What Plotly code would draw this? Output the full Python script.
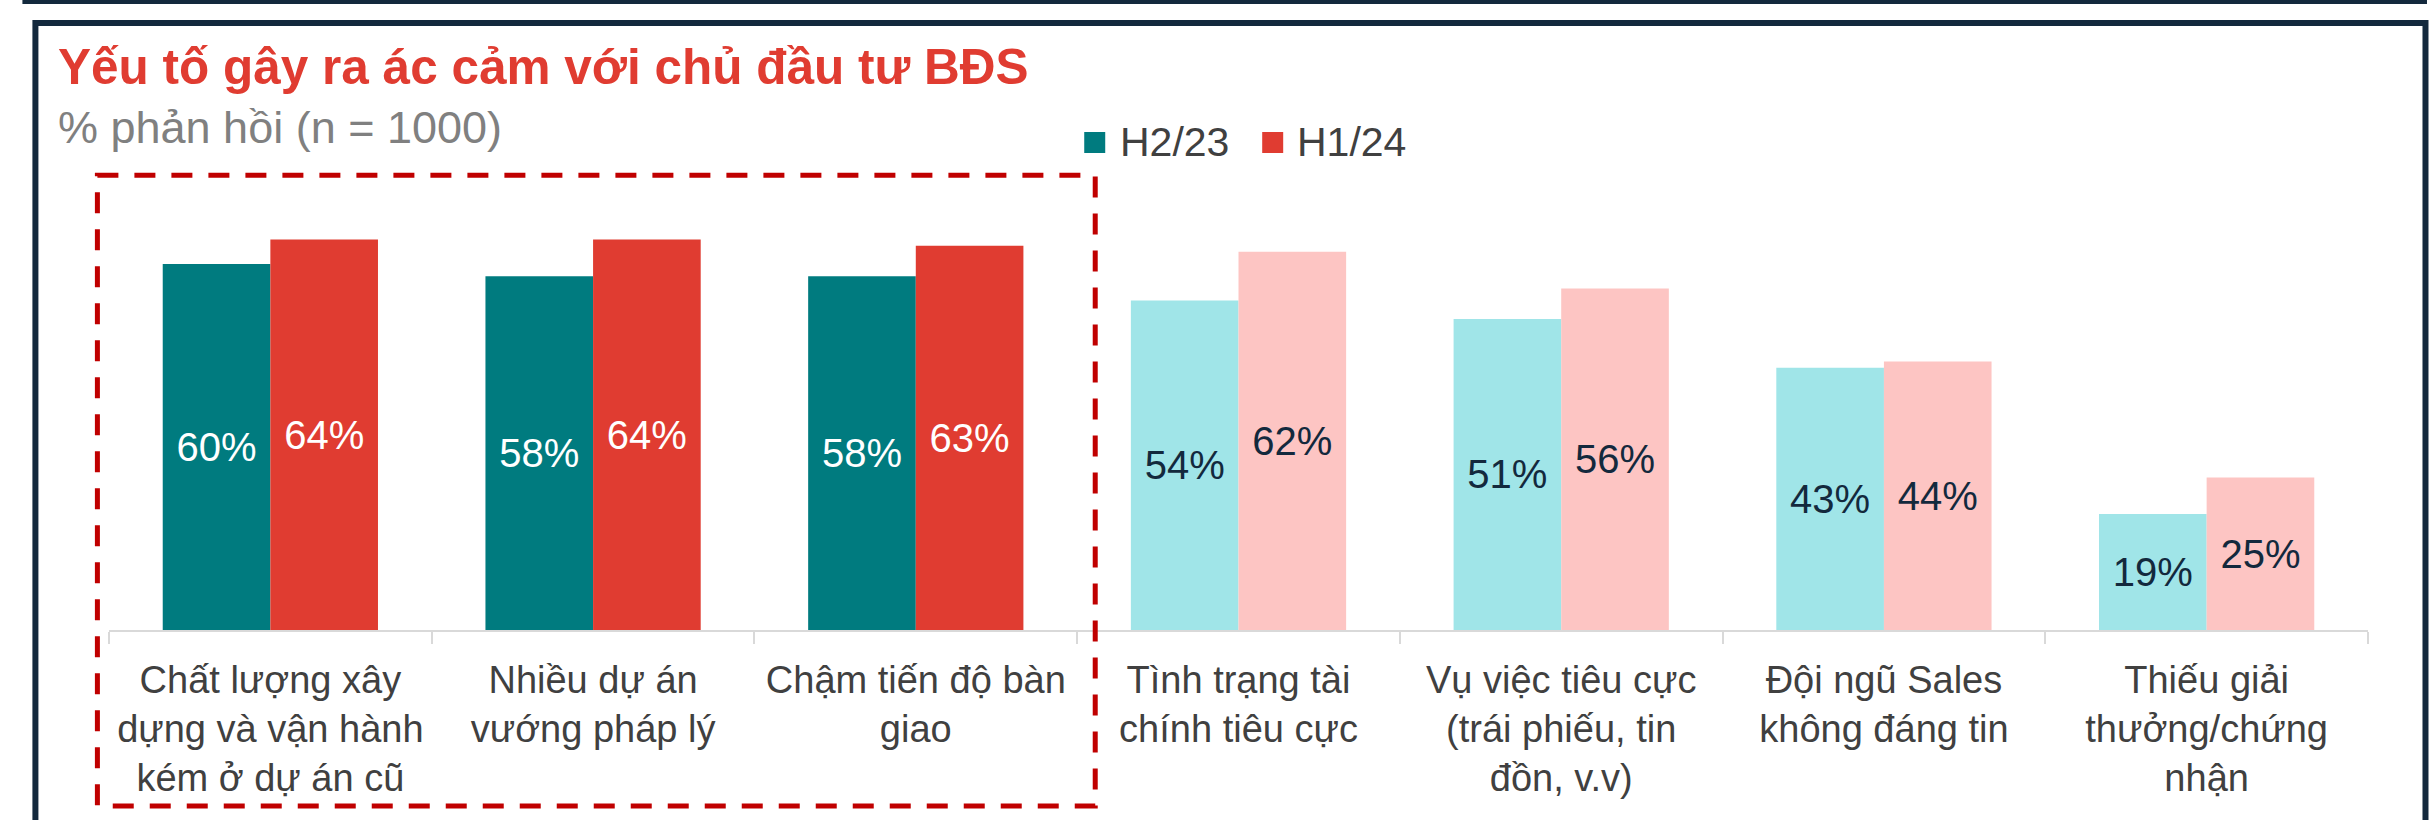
import plotly.graph_objects as go

categories = [
    "Chất lượng xây<br>dựng và vận hành<br>kém ở dự án cũ",
    "Nhiều dự án<br>vướng pháp lý",
    "Chậm tiến độ bàn<br>giao",
    "Tình trạng tài<br>chính tiêu cực",
    "Vụ việc tiêu cực<br>(trái phiếu, tin<br>đồn, v.v)",
    "Đội ngũ Sales<br>không đáng tin",
    "Thiếu giải<br>thưởng/chứng<br>nhận",
]
series_names = ["H2/23", "H1/24"]
h2_23 = [60, 58, 58, 54, 51, 43, 19]
h1_24 = [64, 64, 63, 62, 56, 44, 25]
highlighted = [True, True, True, False, False, False, False]

title_text = "Yếu tố gây ra ác cảm với chủ đầu tư BĐS"
subtitle_text = "% phản hồi (n = 1000)"

TEAL, RED = "#007B7F", "#E03C31"
LTEAL, PINK = "#A0E5E8", "#FDC5C3"
NAVY = "#13293D"
FONT = "Arial, Liberation Sans, sans-serif"

W, H = 2429, 820
ML, MR, MT, MB = 108.6, 61, 203, 190
PW, PH = W - ML - MR, H - MT - MB


def px(x):
    return (x - ML) / PW


def py(y):
    return (H - MB - y) / PH


fig = go.Figure()
for vals, name, dark, light in [(h2_23, series_names[0], TEAL, LTEAL), (h1_24, series_names[1], RED, PINK)]:
    fig.add_trace(go.Bar(
        x=categories, y=vals, name=name,
        marker=dict(color=[dark if h else light for h in highlighted], line=dict(width=0)),
        text=[f"{v}%" for v in vals],
        textposition="inside", insidetextanchor="middle", textangle=0,
        insidetextfont=dict(family=FONT, size=40, color=["#FFFFFF" if h else NAVY for h in highlighted]),
        showlegend=False,
    ))

shapes = []
# top dark bar
shapes.append(dict(type="rect", xref="paper", yref="paper", x0=px(22), x1=px(2427), y0=py(0), y1=py(4),
                   fillcolor=NAVY, line=dict(width=0)))
# frame box (open at bottom)
shapes.append(dict(type="path", xref="paper", yref="paper",
                   path=f"M {px(35)},{py(830)} L {px(35)},{py(23)} L {px(2425.5)},{py(23)} L {px(2425.5)},{py(830)}",
                   line=dict(color=NAVY, width=6)))
# dashed highlight box
shapes.append(dict(type="rect", xref="paper", yref="paper", x0=px(97), x1=px(1095), y0=py(175.3), y1=py(806),
                   line=dict(color="#C00000", width=5, dash="21px,16px")))
# legend squares
legend_items = [(1084, TEAL, 1118, series_names[0]), (1262, RED, 1295, series_names[1])]
annotations = []
for sx, col, tx, label in legend_items:
    shapes.append(dict(type="rect", xref="paper", yref="paper", x0=px(sx), x1=px(sx + 21), y0=py(132), y1=py(153),
                       fillcolor=col, line=dict(width=0)))
    annotations.append(dict(text=label, xref="paper", yref="paper", x=px(tx), y=py(142.5), xanchor="left",
                            yanchor="middle", showarrow=False, font=dict(family=FONT, size=41, color="#404040")))

annotations.append(dict(text=f"<b>{title_text}</b>", xref="paper", yref="paper", x=px(56), y=py(66),
                        xanchor="left", yanchor="middle", showarrow=False,
                        font=dict(family=FONT, size=49.5, color=RED)))
annotations.append(dict(text=subtitle_text, xref="paper", yref="paper", x=px(56), y=py(127),
                        xanchor="left", yanchor="middle", showarrow=False,
                        font=dict(family=FONT, size=45, color="#808080")))

fig.update_layout(
    width=W, height=H,
    margin=dict(l=ML, r=MR, t=MT, b=MB, pad=0),
    paper_bgcolor="white", plot_bgcolor="white",
    barmode="group", bargap=0.333, bargroupgap=0,
    shapes=shapes, annotations=annotations,
    showlegend=False,
    font=dict(family=FONT),
)
fig.update_xaxes(
    showline=True, linecolor="#D9D9D9", linewidth=2,
    ticks="outside", tickson="boundaries", ticklen=12, tickcolor="#D9D9D9", tickwidth=2,
    tickfont=dict(family=FONT, size=38, color="#404040"), ticklabelstandoff=15,
    showgrid=False, fixedrange=True,
)
fig.update_yaxes(range=[0, 70], visible=False, showgrid=False, fixedrange=True)

fig.write_html("out.html", config={"displayModeBar": False},
               post_script="document.body.style.margin='0';document.body.style.overflow='hidden';")
